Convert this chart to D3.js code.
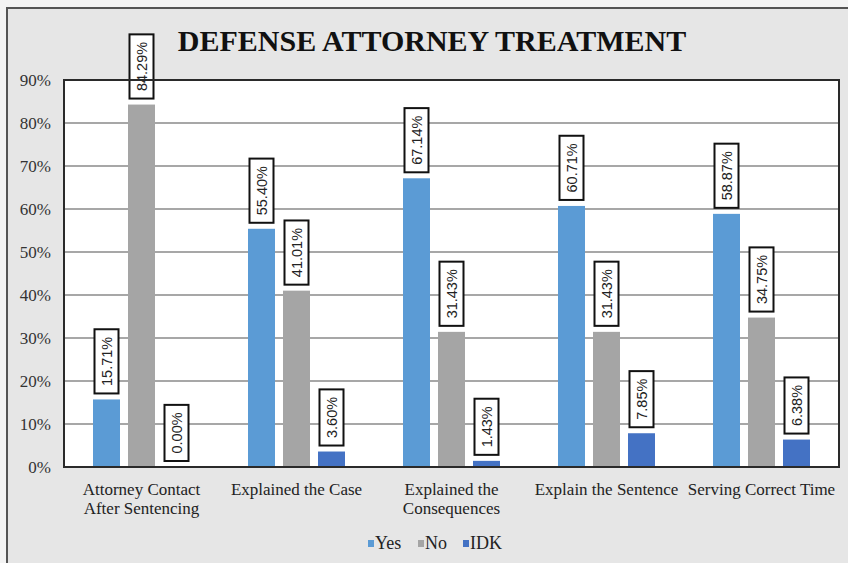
<!DOCTYPE html>
<html>
<head>
<meta charset="utf-8">
<script src="https://cdn.jsdelivr.net/npm/d3@7/dist/d3.min.js"></script>
<style>
  html, body { margin: 0; padding: 0; background: #f4f4f4; }
  svg { display: block; }
</style>
</head>
<body>
<svg id="chart" width="848" height="563"></svg>
<script>
// Survey categories and response shares (percent)
const categories = [
  ["Attorney Contact", "After Sentencing"],
  ["Explained the Case"],
  ["Explained the", "Consequences"],
  ["Explain the Sentence"],
  ["Serving Correct Time"]
];
const seriesNames = ["Yes", "No", "IDK"];
const yesValues = [15.71, 55.40, 67.14, 60.71, 58.87];
const noValues  = [84.29, 41.01, 31.43, 31.43, 34.75];
const idkValues = [0.00, 3.60, 1.43, 7.85, 6.38];
const yTicks = [0, 10, 20, 30, 40, 50, 60, 70, 80, 90];
const colors = ["#5b9bd5", "#a5a5a5", "#4472c4"];

const serif = "'Liberation Serif', 'Times New Roman', serif";
const svg = d3.select("#chart");
const W = 848, H = 563;
const plot = { left: 64, right: 839, top: 80, bottom: 467 };

// frame and panel background
svg.append("rect")
  .attr("x", 7).attr("y", 8).attr("width", W + 10).attr("height", H + 10)
  .attr("fill", "#e6e6e6").attr("stroke", "#555").attr("stroke-width", 2);

svg.append("rect")
  .attr("x", plot.left).attr("y", plot.top)
  .attr("width", plot.right - plot.left).attr("height", plot.bottom - plot.top)
  .attr("fill", "#ffffff");

const keys = categories.map((c, i) => i);
const x0 = d3.scaleBand().domain(keys).range([plot.left, plot.right]).padding(0);
const bw = x0.bandwidth();
const x1 = d3.scaleBand().domain(seriesNames)
  .range([bw / 2 - 48.5, bw / 2 + 48.5]).paddingInner(8 / 35).paddingOuter(0);
const y = d3.scaleLinear().domain([0, 90]).range([plot.bottom, plot.top]);

// gridlines
svg.append("g").selectAll("line").data(yTicks.filter(t => t > 0 && t < 90)).join("line")
  .attr("x1", plot.left).attr("x2", plot.right)
  .attr("y1", d => y(d)).attr("y2", d => y(d))
  .attr("stroke", "#8a8a8a").attr("stroke-width", 1.5);

// y axis labels
const yAxis = d3.axisLeft(y).tickValues(yTicks).tickFormat(d => d + "%").tickSize(0).tickPadding(13);
const ya = svg.append("g").attr("transform", `translate(${plot.left},0)`).call(yAxis);
ya.select(".domain").remove();
ya.selectAll("text")
  .attr("font-family", serif)
  .attr("font-size", 17).attr("fill", "#333");

const seriesValues = [yesValues, noValues, idkValues];
const bars = [];
seriesNames.forEach((s, si) => {
  seriesValues[si].forEach((v, ci) => bars.push({ s, si, ci, v }));
});

// bars
svg.append("g").selectAll("rect").data(bars).join("rect")
  .attr("x", d => x0(d.ci) + x1(d.s))
  .attr("y", d => y(d.v))
  .attr("width", x1.bandwidth())
  .attr("height", d => y(0) - y(d.v))
  .attr("fill", d => colors[d.si]);

// value labels in boxes, rotated
const lab = svg.append("g").selectAll("g").data(bars).join("g")
  .attr("transform", d => `translate(${x0(d.ci) + x1(d.s) + x1.bandwidth() / 2},${y(d.v) - 6})`);
lab.each(function(d) {
  const g = d3.select(this);
  const t = g.append("text")
    .attr("transform", "rotate(-90)")
    .attr("font-family", "'Liberation Sans', Arial, sans-serif")
    .attr("font-size", 14.5).attr("fill", "#222")
    .attr("dominant-baseline", "central")
    .text(d.v.toFixed(2) + "%");
  const len = t.node().getComputedTextLength();
  const h = len + 15;
  t.attr("x", h / 2).attr("text-anchor", "middle");
  g.insert("rect", "text")
    .attr("x", -12).attr("y", -h).attr("width", 24).attr("height", h)
    .attr("fill", "#fff").attr("stroke", "#111").attr("stroke-width", 2);
});

// plot border
svg.append("rect")
  .attr("x", plot.left).attr("y", plot.top)
  .attr("width", plot.right - plot.left).attr("height", plot.bottom - plot.top)
  .attr("fill", "none").attr("stroke", "#2a2a2a").attr("stroke-width", 2);

// category labels
svg.append("g").selectAll("text").data(categories).join("text")
  .attr("x", (d, i) => x0(i) + bw / 2)
  .attr("y", 495)
  .attr("text-anchor", "middle")
  .attr("font-family", serif)
  .attr("font-size", 17).attr("fill", "#222")
  .each(function(d) {
    d3.select(this).selectAll("tspan").data(d).join("tspan")
      .attr("x", d3.select(this).attr("x"))
      .attr("dy", (l, j) => j === 0 ? 0 : 19)
      .text(l => l);
  });

// title
svg.append("text")
  .attr("x", 432).attr("y", 51)
  .attr("text-anchor", "middle")
  .attr("font-family", serif)
  .attr("font-weight", "bold").attr("font-size", 30).attr("fill", "#111")
  .text("DEFENSE ATTORNEY TREATMENT");

// legend
const legendX = [368, 418, 463];
const leg = svg.append("g").selectAll("g").data(seriesNames).join("g")
  .attr("transform", (d, i) => `translate(${legendX[i]},549)`);
leg.append("rect").attr("x", 0).attr("y", -9).attr("width", 6).attr("height", 7)
  .attr("fill", (d, i) => colors[i]);
leg.append("text").attr("x", 7).attr("y", 0)
  .attr("font-family", serif)
  .attr("font-size", 18).attr("fill", "#222")
  .text(d => d);
</script>
</body>
</html>
